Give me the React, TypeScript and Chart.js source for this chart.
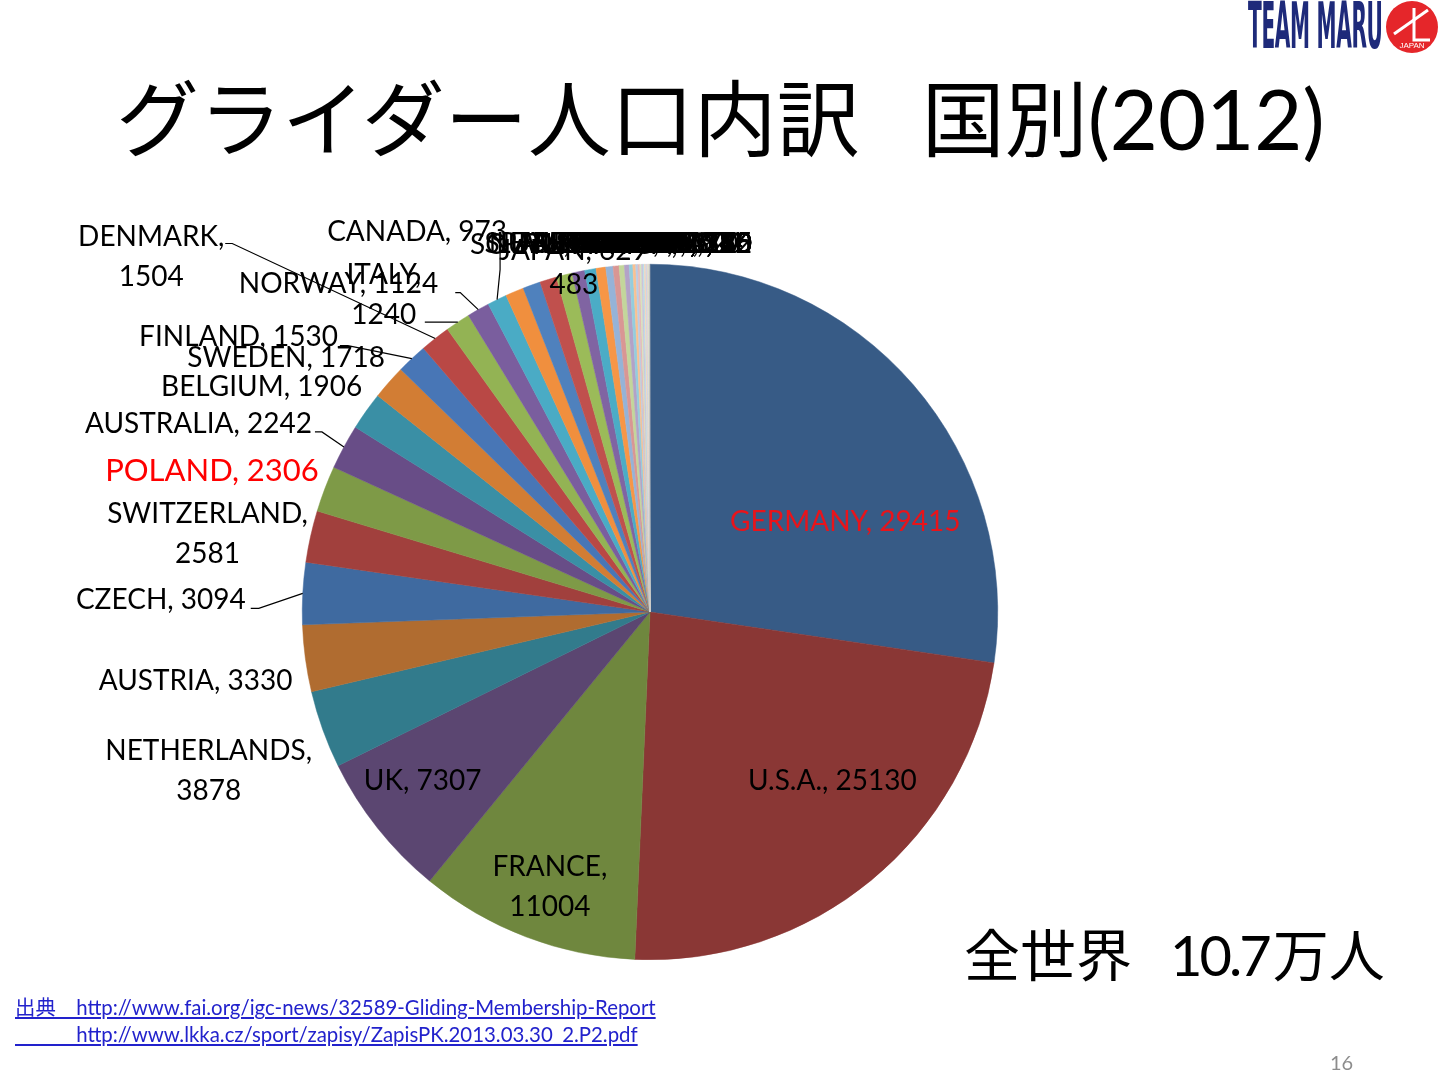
import React, { useEffect, useRef } from "react";
import { Chart, registerables } from "chart.js";

Chart.register(...registerables);

const countries = [
  "GERMANY", "U.S.A.", "FRANCE", "UK", "NETHERLANDS", "AUSTRIA", "CZECH", "SWITZERLAND",
  "POLAND", "AUSTRALIA", "BELGIUM", "SWEDEN", "FINLAND", "DENMARK", "ITALY", "NORWAY", "CANADA",
  "SPAIN", "NEW ZEALAND", "HUNGARY", "SLOVAKIA", "JAPAN", "SLOVENIA", "SOUTH AFRICA",
  "ARGENTINA", "BRAZIL", "LITHUANIA", "RUSSIA", "IRELAND", "ISRAEL", "LUXEMBOURG", "ESTONIA",
  "CROATIA", "PORTUGAL", "CHILE", "LATVIA", "ROMANIA", "SERBIA", "ICELAND", "TURKEY", "INDIA",
];

const members = [
  29415, 25130, 11004, 7307, 3878, 3330, 3094, 2581, 2306, 2242, 1906, 1718, 1530, 1504, 1240, 1124, 973,
  920, 880, 840, 800, 629, 570, 483, 360, 300, 260, 240, 180, 140,
  110, 95, 85, 76, 70, 62, 55, 50, 46, 35, 24,
];

const sliceColors = [
  "#375B86", "#8A3735", "#6F873E", "#5B4671", "#327B8C", "#B06C30",
  "#3F6AA0", "#A1403D", "#7E9A47", "#684D87", "#3A8FA5", "#D27D34",
  "#4876B6", "#B94845", "#93B354", "#7A5E9E", "#4AABC5", "#F08F3E",
  "#4F81BD", "#C0504D", "#9BBB59", "#8064A2", "#4BACC6", "#F79646",
  "#95B3D7", "#D99694", "#C3D69B", "#B3A2C7", "#93CDDD", "#FAC090",
  "#B9CDE5", "#E6B9B8", "#D7E4BD", "#CCC1DA", "#B7DEE8", "#FCD5B5",
  "#C5D5EA", "#EBD0CF", "#DCE6C8", "#D0D0D0", "#BFBFBF",
];

type LabelSpec = {
  dx: number;
  dy: number;
  align: CanvasTextAlign;
  twoLine?: boolean;
  color?: string;
  size?: number;
  leader?: number[][];
};

// label placement relative to the slice's outer mid point
const labelLayout: Record<number, LabelSpec> = {
  0: { dx: -68, dy: 137, align: "center", color: "#E8141B" },
  1: { dx: -39, dy: -99, align: "center" },
  2: { dx: 24, dy: -70, align: "center", twoLine: true },
  3: { dx: 45, dy: -47, align: "center" },
  4: { dx: -114, dy: 22, align: "center", twoLine: true },
  5: { dx: -13, dy: 23, align: "right" },
  6: { dx: -57, dy: 7, align: "right", leader: [[-52, 15], [-44, 15]] },
  7: { dx: -103, dy: -22, align: "center", twoLine: true },
  8: { dx: -6, dy: -18, align: "right", color: "#FF0000", size: 31 },
  9: { dx: -32, dy: -23, align: "right", leader: [[-29, -15], [-22, -15]] },
  10: { dx: -4, dy: -24, align: "right" },
  11: { dx: -4, dy: -24, align: "right" },
  12: { dx: -74, dy: -22, align: "right", leader: [[-72, -13], [-64, -13]] },
  13: { dx: -284, dy: -102, align: "center", twoLine: true, leader: [[-210, -95], [-203, -95]] },
  14: { dx: -74, dy: -47, align: "center", twoLine: true, leader: [[-33, 0], [-28, 0]] },
  15: { dx: -40, dy: -26, align: "right", leader: [[-23, -17], [-18, -17]] },
  16: { dx: 10, dy: -68, align: "right", leader: [[3, -59], [3, -30]] },
  21: { dx: -79, dy: -21, align: "left" },
  23: { dx: -27, dy: -23, align: "center", twoLine: true },
};

const FONT = 'Lato, "Noto Sans", sans-serif';

const sliceLabelPlugin = {
  id: "sliceLabels",
  afterDatasetsDraw(chart: any) {
    const ctx: CanvasRenderingContext2D = chart.ctx;
    const meta = chart.getDatasetMeta(0);
    const labels = chart.data.labels as string[];
    const data = chart.data.datasets[0].data as number[];
    const order = meta.data.map((_: any, i: number) => i);
    // draw the small stacked ones first, named ones on top
    order.sort((a: number, b: number) => (labelLayout[a] ? 1 : 0) - (labelLayout[b] ? 1 : 0));
    ctx.save();
    order.forEach((i: number) => {
      const arc = meta.data[i];
      const p = arc.getProps(["x", "y", "startAngle", "endAngle", "outerRadius"], true);
      const mid = (p.startAngle + p.endAngle) / 2;
      const px = p.x + Math.cos(mid) * p.outerRadius;
      const py = p.y + Math.sin(mid) * p.outerRadius;
      let spec = labelLayout[i];
      const size = spec?.size ?? 28;
      ctx.font = `${size}px ${FONT}`;
      const lines = spec?.twoLine ? [`${labels[i]},`, `${data[i]}`] : [`${labels[i]}, ${data[i]}`];
      let tx: number, ty: number;
      if (spec) {
        tx = px + spec.dx;
        ty = py + spec.dy;
      } else {
        spec = { dx: -30, dy: 0, align: "left" };
        const w = ctx.measureText(lines[0]).width;
        tx = Math.min(px - 30, p.x + 102 - w);
        ty = p.y - p.outerRadius - 20;
      }
      ctx.fillStyle = spec.color ?? "#000000";
      ctx.textAlign = spec.align;
      ctx.textBaseline = "middle";
      lines.forEach((ln, k) => ctx.fillText(ln, tx, ty + k * 40));
      if (spec.leader) {
        ctx.strokeStyle = "#000000";
        ctx.lineWidth = 1.2;
        ctx.beginPath();
        spec.leader.forEach((pt, k) => {
          if (k === 0) ctx.moveTo(px + pt[0], py + pt[1]);
          else ctx.lineTo(px + pt[0], py + pt[1]);
        });
        ctx.lineTo(px, py);
        ctx.stroke();
      }
    });
    ctx.restore();
  },
};

function PieChart() {
  const ref = useRef<HTMLCanvasElement>(null);
  useEffect(() => {
    if (!ref.current) return;
    const chart = new Chart(ref.current, {
      type: "pie",
      data: {
        labels: countries,
        datasets: [
          {
            data: members,
            backgroundColor: sliceColors,
            borderColor: sliceColors,
            borderWidth: 0.5,
          },
        ],
      },
      options: {
        responsive: false,
        animation: false,
        layout: { padding: { left: 302, right: 442, top: 264, bottom: 120 } },
        plugins: {
          legend: { display: false },
          tooltip: { enabled: false },
        },
      },
      plugins: [sliceLabelPlugin],
    });
    return () => chart.destroy();
  }, []);
  return (
    <canvas
      ref={ref}
      width={1440}
      height={1080}
      style={{ position: "absolute", left: 0, top: 0, width: 1440, height: 1080 }}
    />
  );
}

export default function App() {
  const linkStyle: React.CSSProperties = {
    color: "#2222CC",
    textDecoration: "underline",
    whiteSpace: "pre",
  };
  const cjk = 'Lato, "Noto Sans CJK JP", sans-serif';
  return (
    <div
      style={{
        position: "fixed",
        left: 0,
        top: 0,
        width: 1440,
        height: 1080,
        background: "#ffffff",
        overflow: "hidden",
        fontFamily: FONT,
      }}
    >
      <PieChart />
      <div
        style={{
          position: "absolute",
          left: 116,
          top: 68,
          fontSize: 83,
          lineHeight: "100px",
          whiteSpace: "pre",
          color: "#000",
          fontFamily: cjk,
        }}
      >
        <span>グライダー人口内訳</span>
        <span style={{ marginLeft: 62 }}>国別(2012)</span>
      </div>
      <div
        style={{
          position: "absolute",
          left: 964,
          top: 920,
          fontSize: 56,
          lineHeight: "70px",
          whiteSpace: "pre",
          color: "#000",
          fontFamily: cjk,
        }}
      >
        <span>全世界</span>
        <span style={{ marginLeft: 38, letterSpacing: -3 }}>10.7</span>
        <span style={{ marginLeft: 4 }}>万人</span>
      </div>
      <div
        style={{
          position: "absolute",
          left: 15,
          top: 994,
          fontSize: 20.4,
          lineHeight: "27px",
          fontFamily: cjk,
        }}
      >
        <div>
          <span style={linkStyle}>{"出典\u3000http://www.fai.org/igc-news/32589-Gliding-Membership-Report"}</span>
        </div>
        <div>
          <span style={linkStyle}>{"\u3000\u3000\u3000http://www.lkka.cz/sport/zapisy/ZapisPK.2013.03.30_2.P2.pdf"}</span>
        </div>
      </div>
      <div
        style={{
          position: "absolute",
          left: 1330,
          top: 1049,
          fontSize: 20,
          lineHeight: "26px",
          color: "#8C8C8C",
        }}
      >
        16
      </div>
      <div
        style={{
          position: "absolute",
          left: 1248,
          top: -4,
          height: 60,
          fontSize: 64,
          lineHeight: "60px",
          fontWeight: 900,
          color: "#1E2A7A",
          fontFamily: '"Liberation Sans Narrow", "DejaVu Sans Condensed", "Liberation Sans", sans-serif',
          transform: "scaleX(0.35)",
          transformOrigin: "left top",
          whiteSpace: "pre",
          letterSpacing: -1,
        }}
      >
        TEAM MARU
      </div>
      <svg
        style={{ position: "absolute", left: 1384, top: 0 }}
        width={56}
        height={56}
        viewBox="0 0 56 56"
      >
        <circle cx={28} cy={27} r={26} fill="#E5262A" />
        <path d="M10 34 L44 10" stroke="#ffffff" strokeWidth={3} />
        <path d="M30 8 L30 40 L46 40" stroke="#ffffff" strokeWidth={3} fill="none" />
        <text x={28} y={48} fontSize={8} fill="#ffffff" textAnchor="middle" fontFamily="Liberation Sans, sans-serif">
          JAPAN
        </text>
      </svg>
    </div>
  );
}
